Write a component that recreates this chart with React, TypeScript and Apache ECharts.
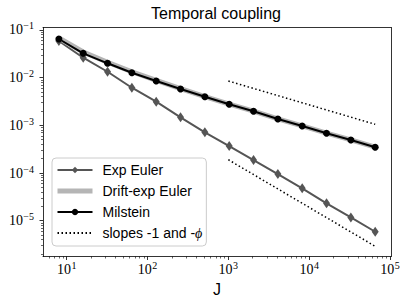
import React, { useEffect, useRef } from "react";
import * as echarts from "echarts";

const J = [8, 16, 32, 64, 128, 256, 512, 1024, 2048, 4096, 8192, 16384, 32768, 65536];
const expEuler = [0.0587, 0.0262, 0.0133, 0.00615, 0.00313, 0.00147, 0.000714, 0.000368, 0.000187, 0.0000952, 0.0000477, 0.0000231, 0.0000117, 0.00000586];
const driftExpEuler = [0.068, 0.0345, 0.021, 0.0133, 0.0088, 0.0059, 0.004, 0.00279, 0.00199, 0.00137, 0.000975, 0.000686, 0.000495, 0.000348];
const milstein = [0.0647, 0.0324, 0.02, 0.0127, 0.00851, 0.00578, 0.00398, 0.00276, 0.00197, 0.00136, 0.000968, 0.000681, 0.000492, 0.000346];
const slopeX = [1000, 65536];
const slopeHalf = [0.0085, 0.00105];
const slopeOne = [0.00019, 0.0000029];

const xMajor = [10, 100, 1000, 10000, 100000];
const yMajor = [1e-5, 1e-4, 1e-3, 1e-2, 1e-1];
const xExtent = [5.09, 102800];
const yExtent = [1.774e-6, 0.1127];

function minorTicks(lo: number, hi: number): number[] {
  const out: number[] = [];
  for (let e = Math.floor(Math.log10(lo)); e <= Math.ceil(Math.log10(hi)); e++) {
    for (let m = 2; m <= 9; m++) {
      const v = m * Math.pow(10, e);
      if (v > lo && v < hi) out.push(v);
    }
  }
  return out;
}

const supLabel = (v: number) => {
  const e = Math.round(Math.log10(v));
  const s = e < 0 ? "\u2212" + String(-e) : String(e);
  return "{b|10}{s|" + s + "}";
};

const richStyle = {
  b: { fontFamily: "Liberation Serif", fontSize: 14, lineHeight: 14, verticalAlign: "bottom", color: "#000" },
  s: { fontFamily: "Liberation Serif", fontSize: 10, lineHeight: 10, padding: [0, 0, 6, 0.5], verticalAlign: "bottom", color: "#000" },
};

export default function App() {
  const ref = useRef<HTMLDivElement>(null);
  useEffect(() => {
    if (!ref.current) return;
    const chart = echarts.init(ref.current, undefined, { renderer: "svg" });
    const toPts = (ys: number[]) => J.map((j, i) => [j, ys[i]]);
    const baseAxis = { type: "log", logBase: 10, splitLine: { show: false } };
    const slopeName = "slopes -1 and -\u03d5";
    const option: any = {
      animation: false,
      backgroundColor: "#fff",
      title: {
        text: "Temporal coupling",
        left: 216,
        top: 5,
        padding: 0,
        textAlign: "center",
        textStyle: { fontFamily: "Liberation Sans", fontSize: 16, fontWeight: "normal", color: "#000" },
      },
      grid: { left: 43, right: 16, top: 27.5, bottom: 49.5, containLabel: false },
      legend: {
        orient: "vertical",
        left: 52,
        top: 158,
        padding: [5, 4, 6, 3],
        itemWidth: 35,
        itemHeight: 8,
        itemGap: 7,
        backgroundColor: "rgba(255,255,255,0.8)",
        borderColor: "#cccccc",
        borderWidth: 1,
        borderRadius: 4,
        data: [
          { name: "Exp Euler" },
          { name: "Drift-exp Euler", itemStyle: { opacity: 0 }, lineStyle: { width: 5, color: "#b5b5b5" } },
          { name: "Milstein" },
          { name: slopeName, itemStyle: { opacity: 0 } },
        ],
        formatter: (name: string) => name.replace("\u03d5", "{phi|\u03d5}"),
        textStyle: {
          fontFamily: "Liberation Sans",
          fontSize: 14,
          lineHeight: 14,
          color: "#000",
          padding: [0, 0, 0, 5],
          rich: { phi: { fontFamily: "Liberation Serif", fontStyle: "italic", fontSize: 14, color: "#000" } },
        },
      },
      xAxis: [
        {
          ...baseAxis,
          min: xExtent[0],
          max: xExtent[1],
          position: "bottom",
          name: "J",
          nameLocation: "middle",
          nameGap: 23,
          nameTextStyle: { fontFamily: "Liberation Sans", fontSize: 16, color: "#000" },
          axisLine: { show: true, lineStyle: { color: "#000", width: 0.8 } },
          axisTick: { show: true, inside: false, length: 3.5, lineStyle: { color: "#000", width: 0.8 }, customValues: xMajor },
          axisLabel: { show: true, margin: 6, color: "#000", customValues: xMajor, formatter: supLabel, rich: richStyle },
        },
        {
          ...baseAxis,
          min: xExtent[0],
          max: xExtent[1],
          position: "bottom",
          axisLine: { show: false },
          axisTick: { show: true, inside: false, length: 2, lineStyle: { color: "#000", width: 0.6 }, customValues: minorTicks(xExtent[0], xExtent[1]) },
          axisLabel: { show: false },
        },
        {
          ...baseAxis,
          min: xExtent[0],
          max: xExtent[1],
          position: "top",
          axisLine: { show: true, lineStyle: { color: "#000", width: 0.8 } },
          axisTick: { show: false },
          axisLabel: { show: false },
        },
      ],
      yAxis: [
        {
          ...baseAxis,
          min: yExtent[0],
          max: yExtent[1],
          position: "left",
          axisLine: { show: true, lineStyle: { color: "#000", width: 0.8 } },
          axisTick: { show: true, inside: false, length: 3.5, lineStyle: { color: "#000", width: 0.8 }, customValues: yMajor },
          axisLabel: { show: true, margin: 9, color: "#000", customValues: yMajor, formatter: supLabel, rich: richStyle },
        },
        {
          ...baseAxis,
          min: yExtent[0],
          max: yExtent[1],
          position: "left",
          axisLine: { show: false },
          axisTick: { show: true, inside: false, length: 2, lineStyle: { color: "#000", width: 0.6 }, customValues: minorTicks(yExtent[0], yExtent[1]) },
          axisLabel: { show: false },
        },
        {
          ...baseAxis,
          min: yExtent[0],
          max: yExtent[1],
          position: "right",
          axisLine: { show: true, lineStyle: { color: "#000", width: 0.8 } },
          axisTick: { show: false },
          axisLabel: { show: false },
        },
      ],
      series: [
        {
          type: "line",
          name: "Exp Euler",
          data: toPts(expEuler),
          symbol: "diamond",
          symbolSize: [7, 10],
          lineStyle: { color: "#555555", width: 2 },
          itemStyle: { color: "#555555" },
        },
        {
          type: "line",
          name: "Drift-exp Euler",
          data: toPts(driftExpEuler),
          symbol: "none",
          showSymbol: false,
          lineStyle: { color: "#b5b5b5", width: 5 },
          itemStyle: { color: "#b5b5b5" },
        },
        {
          type: "line",
          name: "Milstein",
          data: toPts(milstein),
          symbol: "circle",
          symbolSize: 7,
          lineStyle: { color: "#000", width: 2 },
          itemStyle: { color: "#000" },
        },
        {
          type: "line",
          name: slopeName,
          data: slopeX.map((x, i) => [x, slopeHalf[i]]),
          symbol: "none",
          showSymbol: false,
          lineStyle: { color: "#000", width: 1.5, type: [1.5, 2.5] },
          itemStyle: { color: "#000" },
        },
        {
          type: "line",
          name: slopeName,
          data: slopeX.map((x, i) => [x, slopeOne[i]]),
          symbol: "none",
          showSymbol: false,
          lineStyle: { color: "#000", width: 1.5, type: [1.5, 2.5] },
          itemStyle: { color: "#000" },
        },
      ],
    };
    chart.setOption(option);
    return () => chart.dispose();
  }, []);
  return <div ref={ref} style={{ position: "fixed", left: 0, top: 0, width: 407, height: 306 }} />;
}
